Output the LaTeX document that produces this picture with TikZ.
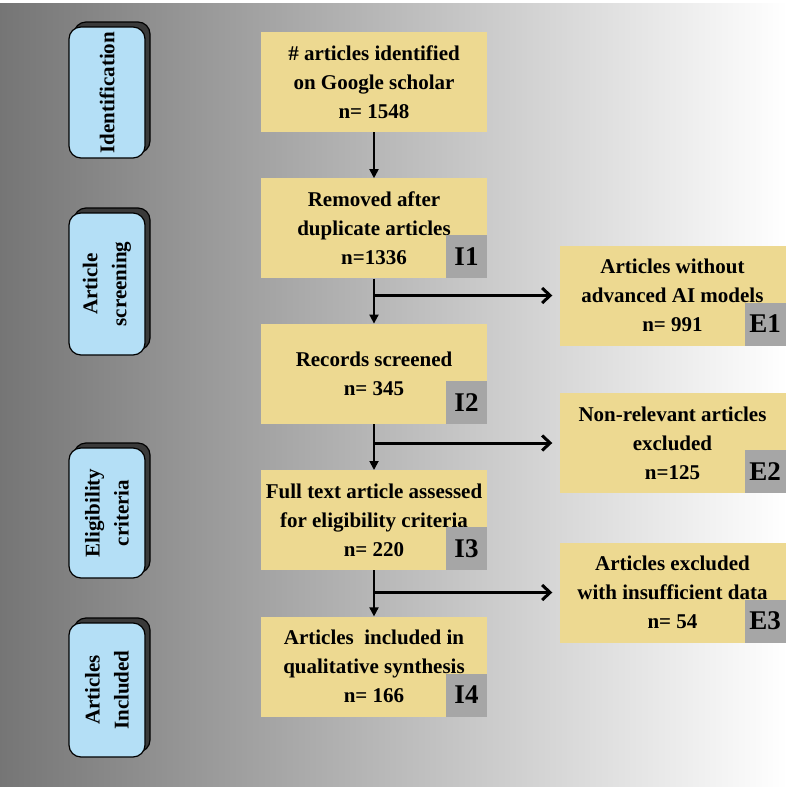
\documentclass[tikz,border=0pt]{standalone}
\usepackage{fontspec}
\setmainfont{Liberation Serif}
\usetikzlibrary{positioning,arrows.meta}
\definecolor{recyellow}{RGB}{237,217,145}
\definecolor{taggray}{RGB}{166,166,166}
\definecolor{phaseblue}{RGB}{180,223,246}
\definecolor{shadowgray}{RGB}{58,58,58}

\begin{document}
\begin{tikzpicture}[x=1pt, y=1pt,
        rec/.style={rectangle, fill=recyellow, minimum width=226pt, minimum height=100pt, inner sep=0pt, align=center, font=\bfseries\fontsize{21}{29}\selectfont},
        tag/.style={rectangle, fill=taggray, minimum width=41pt, minimum height=43pt, inner sep=0pt, anchor=south east, font=\bfseries\fontsize{27}{27}\selectfont},
        phase/.style={rectangle, rounded corners=12pt, draw=black, line width=1.2pt, fill=phaseblue, rotate=90, minimum height=76pt, inner sep=0pt, align=center, font=\bfseries\fontsize{21}{29}\selectfont},
        flow/.style={line width=1.8pt, -{Triangle[length=9pt, width=9pt]}},
        branch/.style={line width=3pt, -{Straight Barb[length=8pt, width=15pt]}, shorten >=7pt},
        node distance=46pt]
        \useasboundingbox (0,0) rectangle (787,-788) ;
        \shade[left color=black!54, right color=white] (0,-3) rectangle (787,-786) ; %
        %
        \foreach \cy/\len in {92.5/131, 284/142, 513/130, 690/134}
          \filldraw[fill=shadowgray, draw=black, line width=1.2pt, rounded corners=12pt] (74,{-\cy-\len/2+5}) rectangle (150,{-\cy+\len/2+5}) ; %
        \node[phase, minimum width=131pt] (ph_id) at (107,-92.5) {Identification} ; %
        \node[phase, minimum width=142pt] (ph_scr) at (107,-284) {Article\\screening} ; %
        \node[phase, minimum width=130pt] (ph_elig) at (107,-513) {Eligibility\\criteria} ; %
        \node[phase, minimum width=134pt] (ph_incl) at (107,-690) {Articles\\Included} ; %
        %
        \node[rec] (rec_1) at (374,-82) {\# articles identified\\on Google scholar\\n= 1548} ; %
        \node[rec, below = of rec_1] (rec_2) {Removed after\\duplicate articles\\n=1336} ; %
        \node[rec, below = 45pt of rec_2] (rec_3) {Records screened\\n= 345} ; %
        \node[rec, below = of rec_3] (rec_4) {Full text article assessed\\for eligibility criteria\\n= 220} ; %
        \node[rec, below = of rec_4] (rec_5) {Articles\ \ included in\\qualitative synthesis\\n= 166} ; %
        %
        \node[rec] (exc_1) at (672.5,-295.5) {Articles without\\advanced AI models\\n= 991} ; %
        \node[rec] (exc_2) at (672.5,-443) {Non-relevant articles\\excluded\\n=125} ; %
        \node[rec] (exc_3) at (672.5,-592.5) {Articles excluded\\with insufficient data\\n= 54} ; %
        %
        \node[tag] (tag_i1) at (rec_2.south east) {I1} ; %
        \node[tag] (tag_i2) at (rec_3.south east) {I2} ; %
        \node[tag] (tag_i3) at (rec_4.south east) {I3} ; %
        \node[tag] (tag_i4) at (rec_5.south east) {I4} ; %
        \node[tag] (tag_e1) at (exc_1.south east) {E1} ; %
        \node[tag] (tag_e2) at (exc_2.south east) {E2} ; %
        \node[tag] (tag_e3) at (exc_3.south east) {E3} ; %
        %
        \draw[flow] (rec_1) -- (rec_2) ; %
        \draw[flow] (rec_2) -- (rec_3) ; %
        \draw[flow] (rec_3) -- (rec_4) ; %
        \draw[flow] (rec_4) -- (rec_5) ; %
        \draw[branch] (rec_2.south |- exc_1) -- (exc_1) ; %
        \draw[branch] (rec_3.south |- exc_2) -- (exc_2) ; %
        \draw[branch] (rec_4.south |- exc_3) -- (exc_3) ; %
\end{tikzpicture}
\end{document}
